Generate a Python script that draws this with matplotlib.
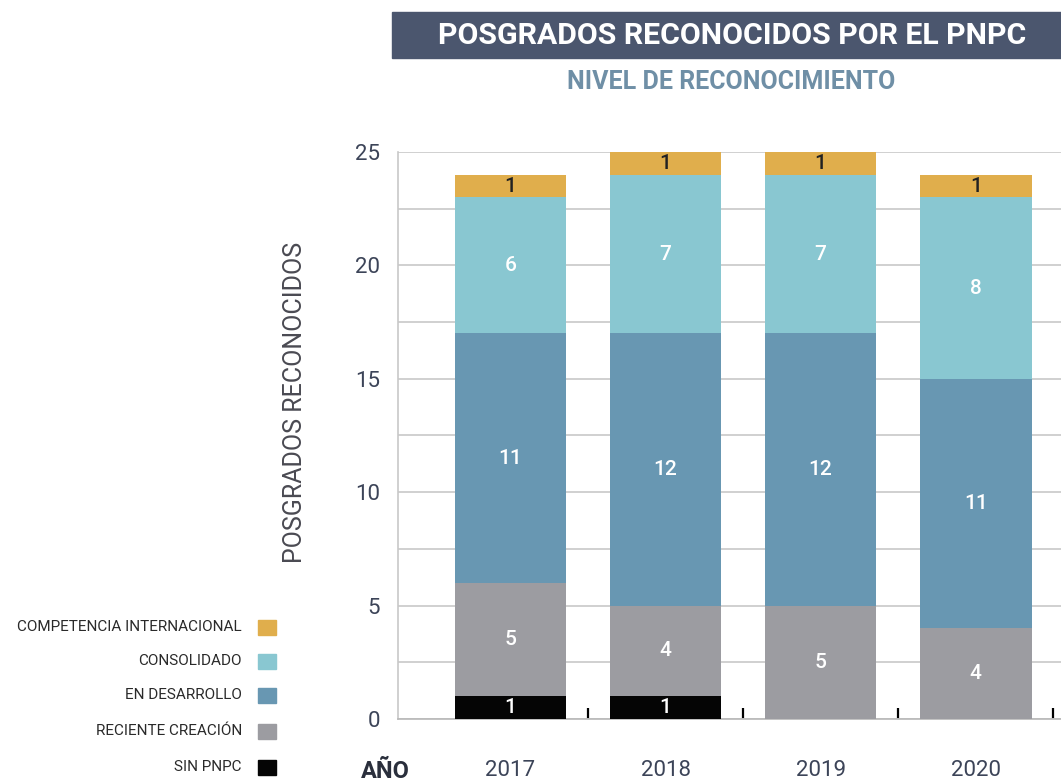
import matplotlib.pyplot as plt
from matplotlib.patches import Rectangle
import numpy as np

years = ["2017", "2018", "2019", "2020"]
sin_pnpc = [1, 1, 0, 0]
reciente = [5, 4, 5, 4]
desarrollo = [11, 12, 12, 11]
consolidado = [6, 7, 7, 8]
internacional = [1, 1, 1, 1]

series = [
    ("SIN PNPC", sin_pnpc, "#050505", "white"),
    ("RECIENTE CREACIÓN", reciente, "#9c9ca1", "white"),
    ("EN DESARROLLO", desarrollo, "#6897b2", "white"),
    ("CONSOLIDADO", consolidado, "#89c7d1", "white"),
    ("COMPETENCIA INTERNACIONAL", internacional, "#e0ae4c", "#222222"),
]

plt.rcParams["font.family"] = ["Roboto", "DejaVu Sans"]

fig = plt.figure(figsize=(10.61, 7.82), dpi=100)
fig.patch.set_facecolor("white")

ax = fig.add_axes([0.3751, 0.0806, 0.6249, 0.725])
ax.set_facecolor("none")

x = np.arange(len(years))
bottom = np.zeros(len(years))
for name, vals, color, tcolor in series:
    vals = np.array(vals, dtype=float)
    ax.bar(x, vals, 0.72, bottom=bottom, color=color, zorder=3)
    for i, v in enumerate(vals):
        if v > 0:
            ax.text(x[i], bottom[i] + v / 2, str(int(v)), ha="center", va="center",
                    color=tcolor, fontsize=15, fontweight="medium", zorder=4)
    bottom += vals

ax.set_ylim(0, 25)
ax.set_xlim(-0.725, 3.55)
ax.set_yticks([0, 5, 10, 15, 20, 25])
ax.set_yticks(np.arange(0, 25.1, 2.5), minor=True)
ax.grid(axis="y", which="both", color="#c8c8c8", linewidth=1.2, zorder=0)
ax.tick_params(axis="y", which="both", length=0, labelsize=16, labelcolor="#3c4458", pad=13)
ax.set_xticks(x)
ax.set_xticklabels([])
ax.tick_params(axis="x", which="major", length=0)
ax.set_xticks([0.5, 1.5, 2.5, 3.5], minor=True)
ax.tick_params(axis="x", which="minor", direction="in", length=8, width=1.6, color="black")
for s in ["top", "right"]:
    ax.spines[s].set_visible(False)
ax.spines["left"].set_color("#c8c8c8")
ax.spines["bottom"].set_color("#b8b8b8")
ax.spines["left"].set_linewidth(1.2)
ax.spines["bottom"].set_linewidth(1.2)

for i, y in enumerate(years):
    ax.text(x[i], -2.29, y, ha="center", va="center", fontsize=16, color="#3c4458")
fig.text(385 / 1061, 1 - 771 / 782, "AÑO", ha="center", va="center", fontsize=17,
         fontweight="bold", color="#2a2f3c")

ax.set_ylabel("POSGRADOS RECONOCIDOS", fontsize=18, color="#4a4a52")
ax.yaxis.set_label_coords(-0.137, 0.559)

# title banner
fig.patches.append(Rectangle((392 / 1061, 1 - 58 / 782), 1 - 392 / 1061, 46 / 782,
                             transform=fig.transFigure, color="#4b566e", zorder=1))
fig.text(732 / 1061, 1 - 36 / 782, "POSGRADOS RECONOCIDOS POR EL PNPC", ha="center",
         va="center", fontsize=21.8, fontweight="bold", color="white", zorder=2)
fig.text(731 / 1061, 1 - 82 / 782, "NIVEL DE RECONOCIMIENTO", ha="center", va="center",
         fontsize=18, fontweight="bold", color="#6f8fa6")

# legend
leg_y = [627, 661, 695, 731, 767]
for (name, vals, color, tcolor), yy in zip(series[::-1], leg_y):
    fig.text(242 / 1061, 1 - yy / 782, name, ha="right", va="center", fontsize=11,
             color="#2a2a2a")
    fig.patches.append(Rectangle((258 / 1061, 1 - (yy + 8) / 782), 18 / 1061, 15 / 782,
                                 transform=fig.transFigure, color=color))

fig.savefig("out.png", dpi=100)
